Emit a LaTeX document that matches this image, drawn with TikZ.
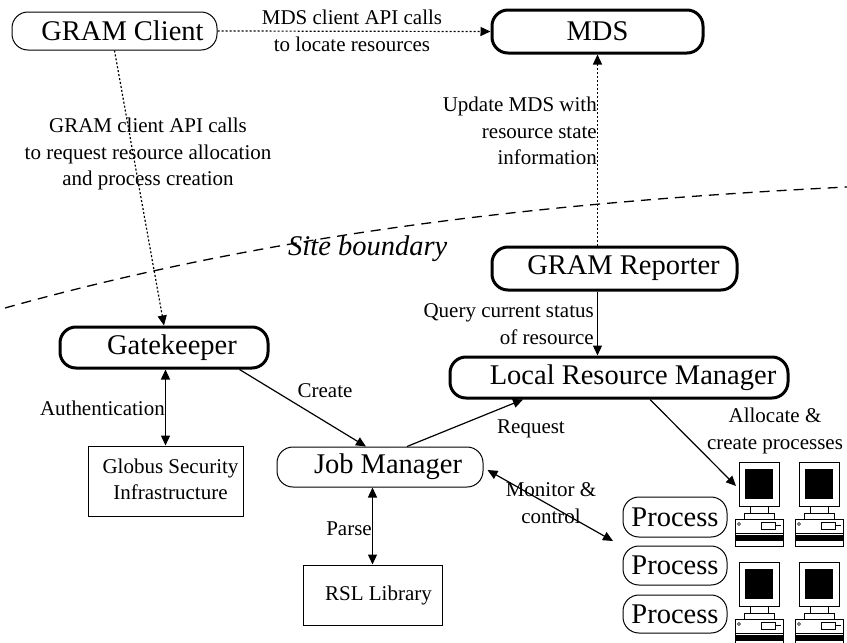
\documentclass[tikz,border=0pt]{standalone}
\usepackage{fontspec}
\setmainfont{Liberation Serif}
\usetikzlibrary{arrows.meta,calc}
\newcommand\mybigfont{\fontsize{28.5}{32}\selectfont}
\newcommand\mylblfont{\fontsize{21}{26.5}\selectfont}
\begin{document}
\begin{tikzpicture}[x=1pt,y=-1pt,
  bigbox/.style={draw,rounded corners=16pt,line width=3pt,font=\mybigfont,inner sep=0pt},
  thinbox/.style={draw,rounded corners=16pt,line width=1pt,font=\mybigfont,inner sep=0pt},
  sqbox/.style={draw,line width=1pt,font=\mylblfont,inner sep=0pt},
  lbl/.style={font=\mylblfont,inner sep=0pt,align=center},
  tip/.tip={Triangle[length=10pt,width=9pt]},
  conn/.style={line width=1.2pt,-tip},
  dconn/.style={line width=1.2pt,tip-tip},
  dotconn/.style={line width=1.2pt,dash pattern=on 2pt off 2pt,-tip},
  computer/.pic={
    \draw[line width=0.8pt,fill=white] (0,0) rectangle (40,44);
    \fill (6,7) rectangle (34,37);
    \draw[line width=0.8pt] (11,44) rectangle (29,51);
    \draw[line width=0.8pt] (5,51) rectangle (35,57);
    \draw[line width=0.8pt] (-4,57) rectangle (44,84);
    \draw[line width=0.6pt] (0,62) circle (1.5pt);
    \draw[line width=0.6pt] (22,60) rectangle (36,67);
    \draw[line width=0.6pt] (36,63.5) -- (42,63.5);
    \draw[line width=0.6pt] (-4,71) -- (44,71);
    \fill (-4,73) rectangle (44,79);
  }
]
\useasboundingbox (0,0) rectangle (847,643);
\fill[white] (0,0) rectangle (847,643);
\clip (0,0) rectangle (847,643);

% site boundary
\draw[line width=1.3pt,dash pattern=on 10pt off 7pt] (5,308) .. controls (285,229.6) and (567,201) .. (847,187);
\node[font=\fontsize{28.5}{32}\selectfont\itshape,inner sep=0pt,anchor=base west] (site) at (288,255) {Site boundary};

% nodes
\node[thinbox,minimum width=205pt,minimum height=38pt] (client) at (114.5,31) {\hspace*{16pt}GRAM Client};
\node[bigbox,minimum width=211pt,minimum height=43pt] (mds) at (597.5,31.5) {MDS};
\node[bigbox,minimum width=245pt,minimum height=43pt] (reporter) at (614.5,268.5) {\hspace*{18pt}GRAM Reporter};
\node[bigbox,minimum width=338pt,minimum height=41pt] (lrm) at (619,377.5) {\hspace*{28pt}Local Resource Manager};
\node[bigbox,minimum width=208pt,minimum height=41pt] (gk) at (164,347.5) {\hspace*{16pt}Gatekeeper};
\node[sqbox,minimum width=155pt,minimum height=70pt] (gsi) at (165.5,481) {\hspace*{10pt}\begin{tabular}{@{}c@{}}Globus Security\\Infrastructure\end{tabular}};
\node[thinbox,minimum width=206pt,minimum height=40pt] (jm) at (380,467) {\hspace*{16pt}Job Manager};
\node[sqbox,minimum width=139pt,minimum height=60pt] (rsl) at (372.5,595) {\hspace*{12pt}RSL Library};
\node[thinbox,minimum width=104pt,minimum height=40pt] (p1) at (675,517) {Process};
\node[thinbox,minimum width=104pt,minimum height=39pt] (p2) at (675,565.5) {Process};
\node[thinbox,minimum width=104pt,minimum height=38pt] (p3) at (675,614) {Process};

% computers
\pic at (739,462) {computer};
\pic at (799,462) {computer};
\pic at (739,562) {computer};
\pic at (799,562) {computer};

\coordinate (mon) at (613,541);
\coordinate (alloc) at (736,486);

% connectors
\draw[dotconn] (client.east) -- (mds.west);
\node[lbl,font=\fontsize{21}{27}\selectfont] (mdsapi) at (352,31) {MDS client API calls\\to locate resources};

\draw[dotconn] (client.south) -- (gk.north);
\node[lbl] (gramapi) at (148,154) {GRAM client API calls\\to request resource allocation\\and process creation};

\draw[dotconn] (mds.south |- reporter.north) -- (mds.south);
\node[lbl,align=right,anchor=east] (update) at (597,131) {Update MDS with\\resource state\\information};

\draw[conn] (mds.south |- reporter.south) -- (mds.south |- lrm.north);
\node[lbl,align=right,anchor=east] (query) at (594,324) {Query current status\\of resource};

\draw[dconn] (gsi.north |- gk.south) -- (gsi.north);
\node[lbl,anchor=base east] (auth) at (165,415) {Authentication};

\draw[conn] ($(gk.south east)+(-30,0)$) -- ($(jm.north)+(-14,0)$);
\node[lbl,anchor=base] (create) at (325,397) {Create};

\draw[conn] ($(jm.north)+(27,0)$) -- ($(lrm.south)+(-96,0)$);
\node[lbl,anchor=base] (request) at (531,433) {Request};

\draw[dconn] (rsl.north |- jm.south) -- (rsl.north);
\node[lbl,anchor=base east] (parse) at (372,535) {Parse};

\draw[dconn] ($(jm.east)+(4,3)$) -- (mon);
\node[lbl] (monitor) at (551,503) {Monitor \&\\control};

\draw[conn] ($(lrm.south)+(31,0)$) -- (alloc);
\node[lbl] (allocl) at (775,431) {Allocate \&\\create processes};
\end{tikzpicture}
\end{document}
